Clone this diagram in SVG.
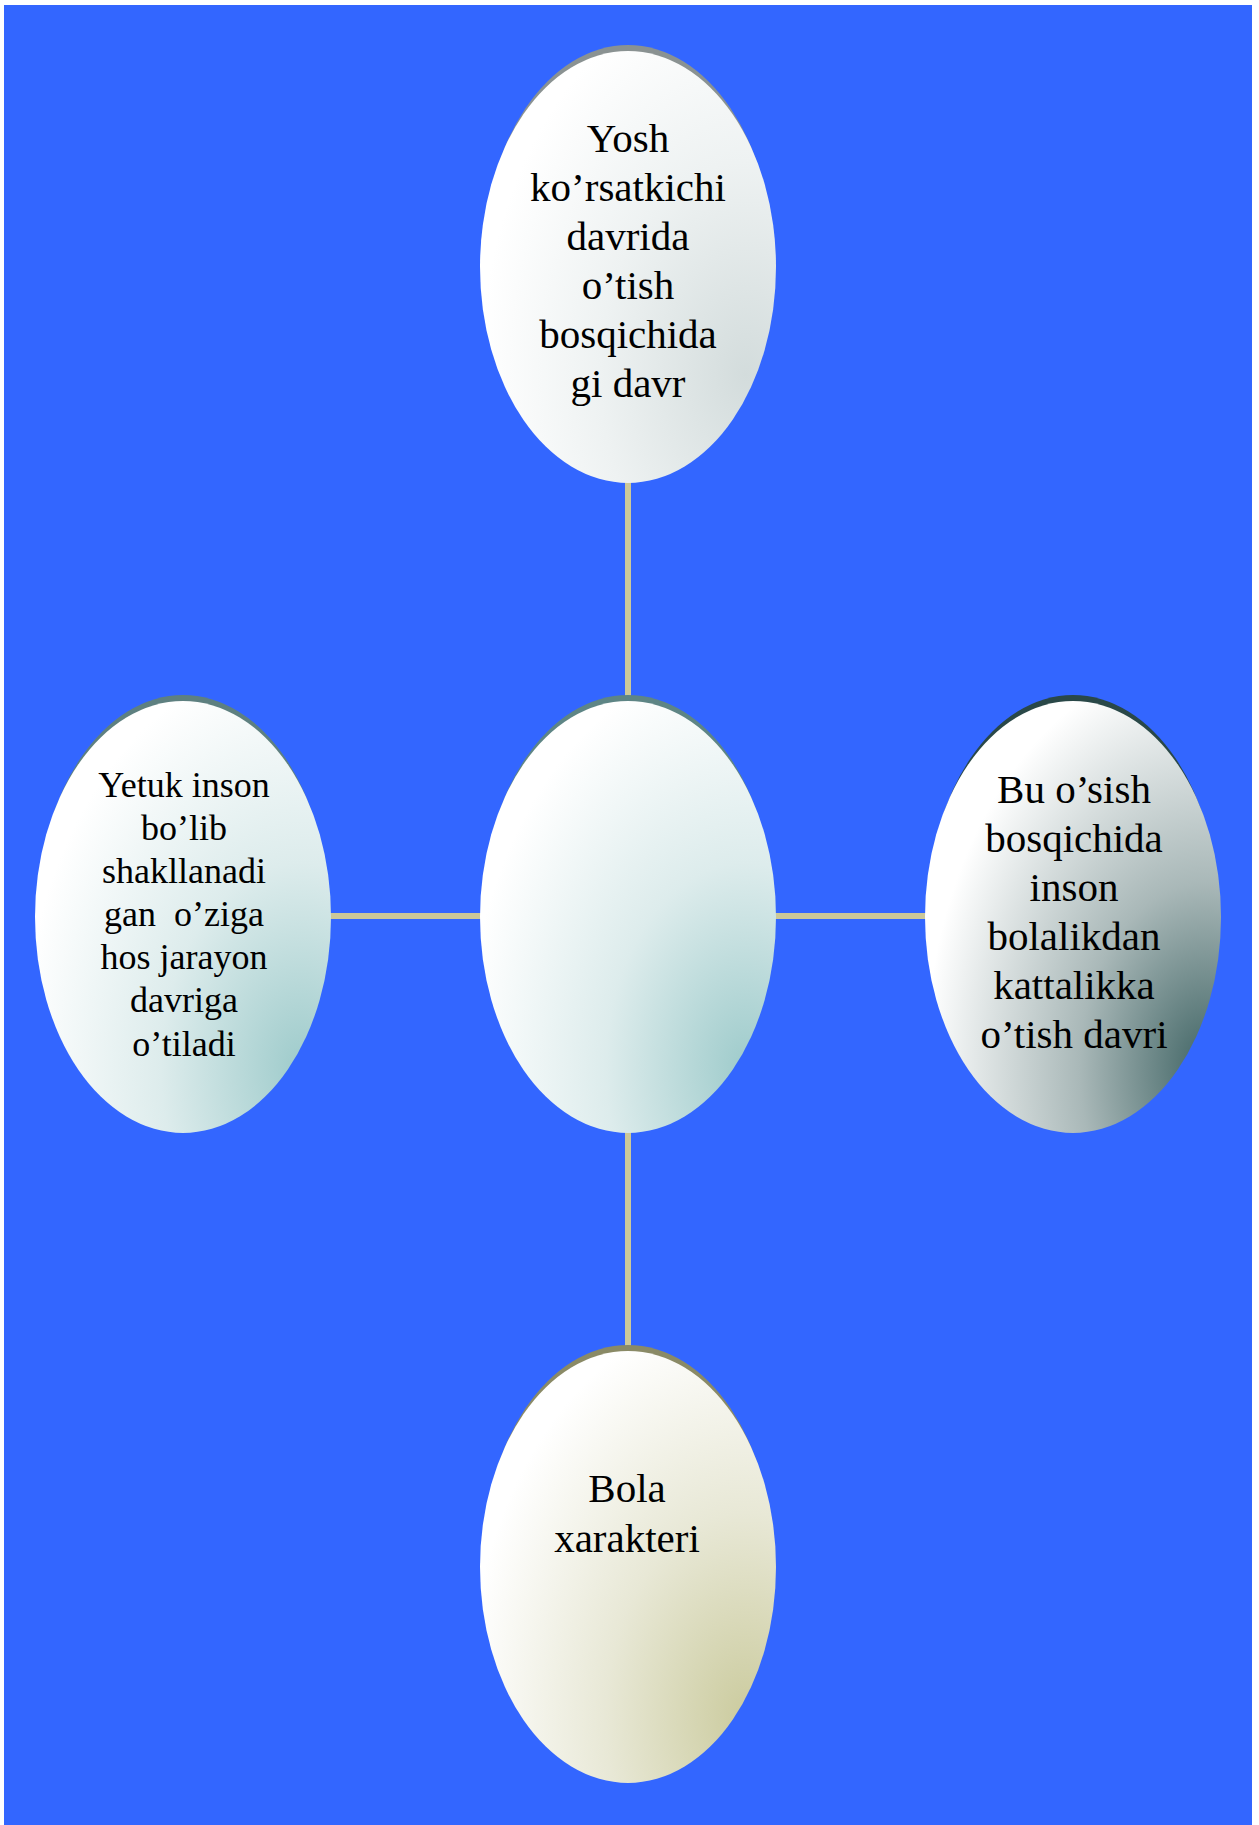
<svg xmlns="http://www.w3.org/2000/svg" width="1259" height="1825" viewBox="0 0 1259 1825">
<style>
.lbl{font-family:"Liberation Serif","Times New Roman",serif;font-size:41px;fill:#000;text-anchor:middle}
.sm{font-size:36px}
.conn{stroke:#CCC899;stroke-width:6;fill:none}
</style>
<defs>
<radialGradient id="gTop" cx="0.9" cy="0.75" r="0.9" fx="0.9" fy="0.75">
<stop offset="0" stop-color="#D3DCDC"/><stop offset="0.55" stop-color="#EEF2F2"/><stop offset="1" stop-color="#FFFFFF"/>
</radialGradient>
<radialGradient id="gLeft" cx="0.9" cy="0.85" r="0.95" fx="0.9" fy="0.85">
<stop offset="0" stop-color="#9ECBCB"/><stop offset="0.5" stop-color="#DDECEC"/><stop offset="1" stop-color="#FFFFFF"/>
</radialGradient>
<radialGradient id="gCenter" cx="0.9" cy="0.85" r="0.95" fx="0.9" fy="0.85">
<stop offset="0" stop-color="#9ECBCB"/><stop offset="0.5" stop-color="#DDECEC"/><stop offset="1" stop-color="#FFFFFF"/>
</radialGradient>
<radialGradient id="gRight" cx="0.95" cy="0.85" r="0.95" fx="0.95" fy="0.85">
<stop offset="0" stop-color="#416565"/><stop offset="0.45" stop-color="#A9B8B8"/><stop offset="1" stop-color="#FFFFFF"/>
</radialGradient>
<radialGradient id="gBottom" cx="0.9" cy="0.85" r="0.95" fx="0.9" fy="0.85">
<stop offset="0" stop-color="#CBCB9E"/><stop offset="0.5" stop-color="#E8E8D6"/><stop offset="1" stop-color="#FFFFFF"/>
</radialGradient>
</defs>
<rect x="0" y="0" width="1259" height="1825" fill="#FFFFFF"/>
<rect x="4" y="5" width="1248" height="1820" fill="#3366FF"/>
<g id="connectors">
<line class="conn" x1="628" y1="480" x2="628" y2="700"/>
<line class="conn" x1="628" y1="1130" x2="628" y2="1352"/>
<line class="conn" x1="330" y1="916" x2="482" y2="916"/>
<line class="conn" x1="774" y1="916" x2="926" y2="916"/>
</g>
<g id="node-top">
<ellipse cx="628" cy="261" rx="145" ry="216" fill="#8A9292"/>
<ellipse cx="628" cy="267" rx="148" ry="216" fill="url(#gTop)"/>
<text class="lbl" x="628" y="152">Yosh</text>
<text class="lbl" x="628" y="201">ko’rsatkichi</text>
<text class="lbl" x="628" y="250">davrida</text>
<text class="lbl" x="628" y="299">o’tish</text>
<text class="lbl" x="628" y="348">bosqichida</text>
<text class="lbl" x="628" y="397">gi davr</text>
</g>
<g id="node-center">
<ellipse cx="628" cy="911" rx="145" ry="216" fill="#5E8585"/>
<ellipse cx="628" cy="917" rx="148" ry="216" fill="url(#gCenter)"/>
</g>
<g id="node-left">
<ellipse cx="183" cy="911" rx="145" ry="216" fill="#5E8080"/>
<ellipse cx="183" cy="917" rx="148" ry="216" fill="url(#gLeft)"/>
<text class="lbl sm" x="184" y="797">Yetuk inson</text>
<text class="lbl sm" x="184" y="840">bo’lib</text>
<text class="lbl sm" x="184" y="883">shakllanadi</text>
<text class="lbl sm" x="184" y="926" style="white-space:pre">gan  o’ziga</text>
<text class="lbl sm" x="184" y="969">hos jarayon</text>
<text class="lbl sm" x="184" y="1012">davriga</text>
<text class="lbl sm" x="184" y="1056">o’tiladi</text>
</g>
<g id="node-right">
<ellipse cx="1073" cy="911" rx="145" ry="216" fill="#2A4848"/>
<ellipse cx="1073" cy="917" rx="148" ry="216" fill="url(#gRight)"/>
<text class="lbl" x="1074" y="803">Bu o’sish</text>
<text class="lbl" x="1074" y="852">bosqichida</text>
<text class="lbl" x="1074" y="901">inson</text>
<text class="lbl" x="1074" y="950">bolalikdan</text>
<text class="lbl" x="1074" y="999">kattalikka</text>
<text class="lbl" x="1074" y="1048">o’tish davri</text>
</g>
<g id="node-bottom">
<ellipse cx="628" cy="1561" rx="145" ry="216" fill="#8A8A66"/>
<ellipse cx="628" cy="1567" rx="148" ry="216" fill="url(#gBottom)"/>
<text class="lbl" x="627" y="1502">Bola</text>
<text class="lbl" x="627" y="1552">xarakteri</text>
</g>
</svg>
